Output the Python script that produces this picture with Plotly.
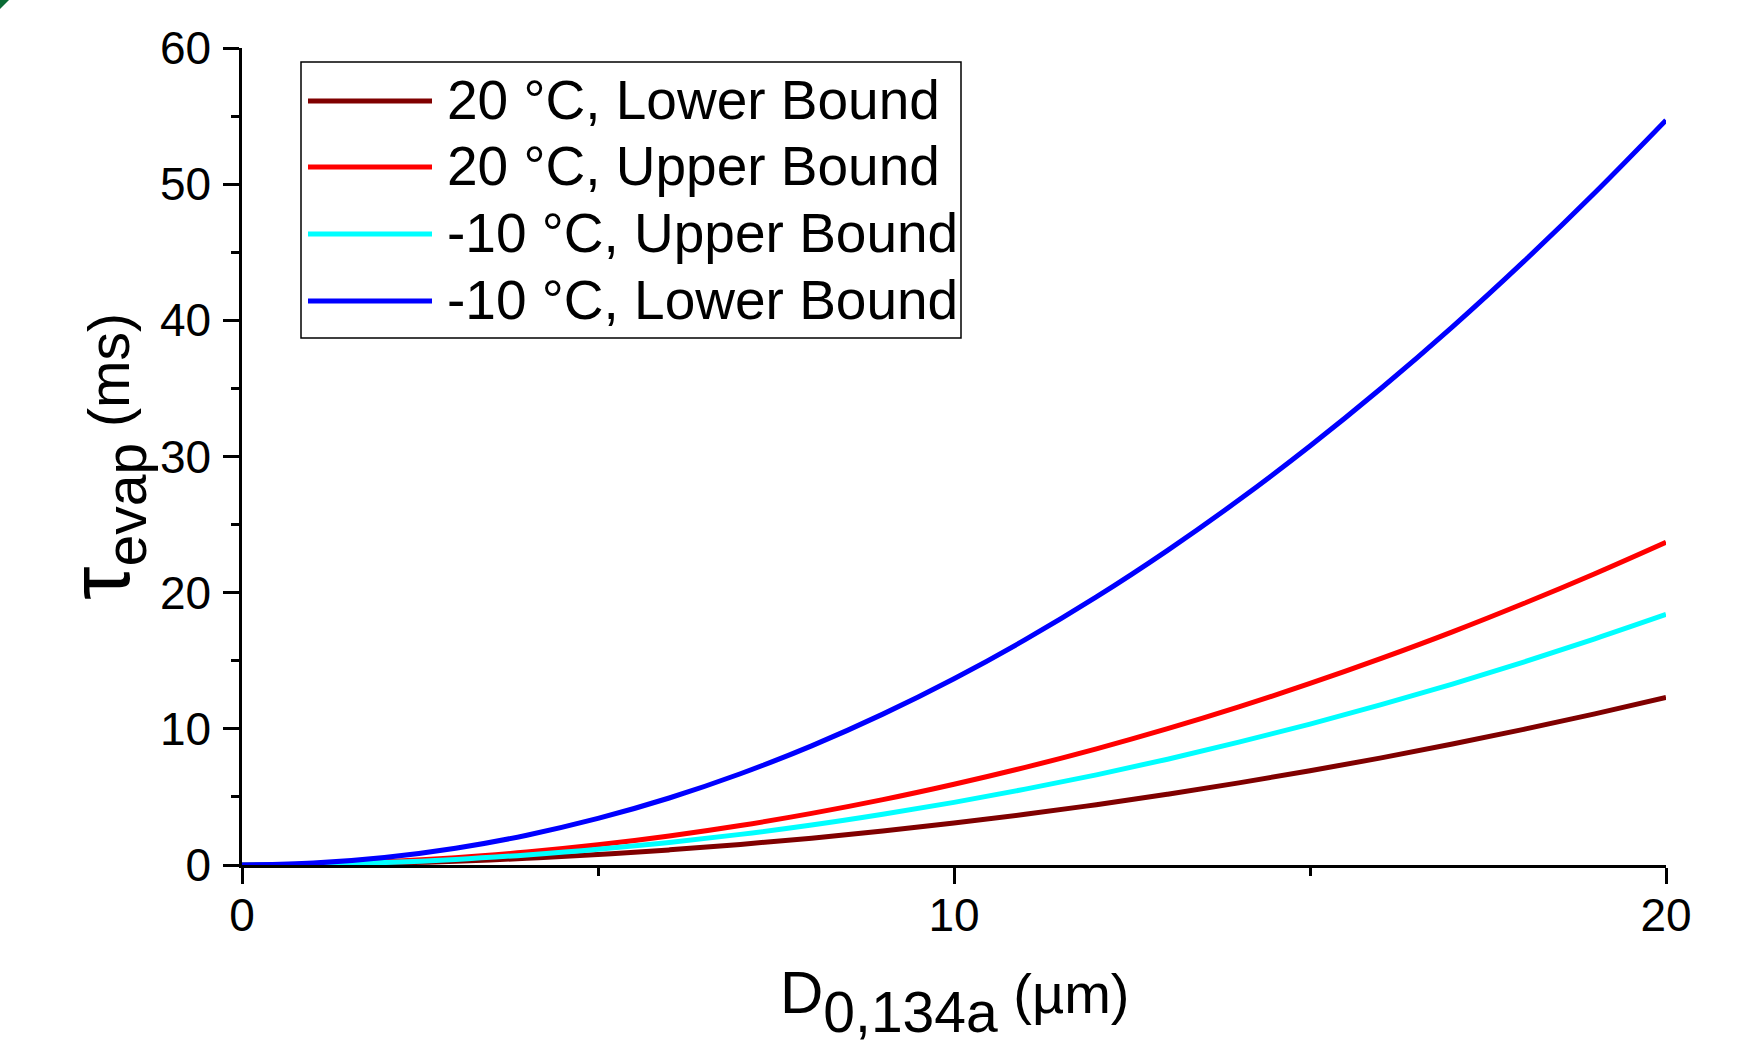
import plotly.graph_objects as go

# ---------------- data ----------------
D_um = [0, 1, 2, 3, 4, 5, 6, 7, 8, 9, 10, 11, 12, 13, 14, 15, 16, 17, 18, 19, 20]

tau_20C_lower = [0, 0.03, 0.12, 0.28, 0.49, 0.77, 1.11, 1.51, 1.97, 2.49, 3.08,
                 3.72, 4.43, 5.20, 6.03, 6.92, 7.87, 8.89, 9.96, 11.10, 12.3]
tau_20C_upper = [0, 0.06, 0.24, 0.53, 0.95, 1.48, 2.13, 2.90, 3.79, 4.80, 5.93,
                 7.17, 8.53, 10.01, 11.61, 13.33, 15.17, 17.12, 19.20, 21.39, 23.7]
tau_m10C_upper = [0, 0.05, 0.18, 0.41, 0.74, 1.15, 1.66, 2.25, 2.94, 3.73, 4.60,
                  5.57, 6.62, 7.77, 9.02, 10.35, 11.78, 13.29, 14.90, 16.61, 18.4]
tau_m10C_lower = [0, 0.14, 0.55, 1.23, 2.19, 3.42, 4.92, 6.70, 8.75, 11.08, 13.68,
                  16.55, 19.69, 23.11, 26.80, 30.77, 35.01, 39.52, 44.31, 49.37, 54.7]

series_names = ["20 °C, Lower Bound", "20 °C, Upper Bound",
                "-10 °C, Upper Bound", "-10 °C, Lower Bound"]
series_values = [tau_20C_lower, tau_20C_upper, tau_m10C_upper, tau_m10C_lower]
series_colors = ["#800000", "#FF0000", "#00FFFF", "#0000FF"]

x_tick_vals = [0, 10, 20]
y_tick_vals = [0, 10, 20, 30, 40, 50, 60]

x_title = ("<span style='font-size:60px'>D</span>"
           "<span style='font-size:92px'><sub>"
           "<span style='font-size:57px'>0,134a</span></sub></span>"
           " (µm)")
y_title = ("<span style='font-size:85px'>τ</span>"
           "<span style='font-size:80px'><sub>"
           "<span style='font-size:57px'>evap</span></sub></span>"
           " (ms)")

# ---------------- layout geometry ----------------
W, H = 1757, 1042
L, R, T, B = 242, 91, 48, 177
PW, PH = W - L - R, H - T - B
FONT = "Arial, Liberation Sans, Helvetica, sans-serif"


def px_x(px):
    return (px - L) / PW


def px_y(py):
    return (H - B - py) / PH


fig = go.Figure()
for name, vals, col in zip(series_names, series_values, series_colors):
    fig.add_trace(go.Scatter(x=D_um, y=vals, mode="lines", name=name,
                             line=dict(color=col, width=5, shape="spline"),
                             showlegend=False))

axis_common = dict(
    showline=True, linecolor="black", linewidth=2.5, mirror=False,
    ticks="outside", ticklen=16, tickwidth=2.5, tickcolor="black",
    showgrid=False, zeroline=False,
    tickfont=dict(family=FONT, size=46, color="black"),
    minor=dict(ticks="outside", ticklen=8, tickwidth=2.5, tickcolor="black",
               dtick=5, showgrid=False),
)

fig.update_xaxes(range=[0, 20], tickvals=x_tick_vals, **axis_common,
                 ticklabelstandoff=-8)
fig.update_yaxes(range=[0, 60], tickvals=y_tick_vals, **axis_common,
                 ticklabelstandoff=3,
                 title=dict(text=y_title,
                            font=dict(family=FONT, size=57, color="black"),
                            standoff=12))

annotations = []
# x-axis title placed as paper annotation (axis-title standoff is clamped by the margin)
annotations.append(dict(xref="paper", yref="paper", x=0.5, y=px_y(957),
                        xanchor="center", yanchor="top", showarrow=False,
                        text=x_title, font=dict(family=FONT, size=56, color="black")))

# ---------------- custom legend (long line samples as in reference) ----------------
shapes = [dict(type="rect", xref="paper", yref="paper",
               x0=px_x(301), x1=px_x(961), y0=px_y(338), y1=px_y(62),
               line=dict(color="black", width=1.5), fillcolor="white", layer="above")]
row_y = [101, 167, 234, 301]
for ry, name, col in zip(row_y, series_names, series_colors):
    shapes.append(dict(type="line", xref="paper", yref="paper",
                       x0=px_x(308), x1=px_x(432), y0=px_y(ry), y1=px_y(ry),
                       line=dict(color=col, width=5), layer="above"))
    annotations.append(dict(xref="paper", yref="paper", x=px_x(445), y=px_y(ry - 1),
                            xanchor="left", yanchor="middle", showarrow=False,
                            text=name, font=dict(family=FONT, size=55, color="black")))

# small green corner mark seen at the top-left of the reference
shapes.append(dict(type="path", xref="paper", yref="paper",
                   path=f"M {px_x(0)},{px_y(0)} L {px_x(9)},{px_y(0)} L {px_x(0)},{px_y(9)} Z",
                   fillcolor="#0b6b35", line=dict(width=0), layer="above"))

fig.update_layout(
    width=W, height=H,
    margin=dict(l=L, r=R, t=T, b=B, autoexpand=False),
    paper_bgcolor="white", plot_bgcolor="white",
    font=dict(family=FONT, color="black"),
    shapes=shapes, annotations=annotations,
    showlegend=False,
)

fig.write_html("out.html", config={"displayModeBar": False},
               post_script="document.body.style.margin='0';")
